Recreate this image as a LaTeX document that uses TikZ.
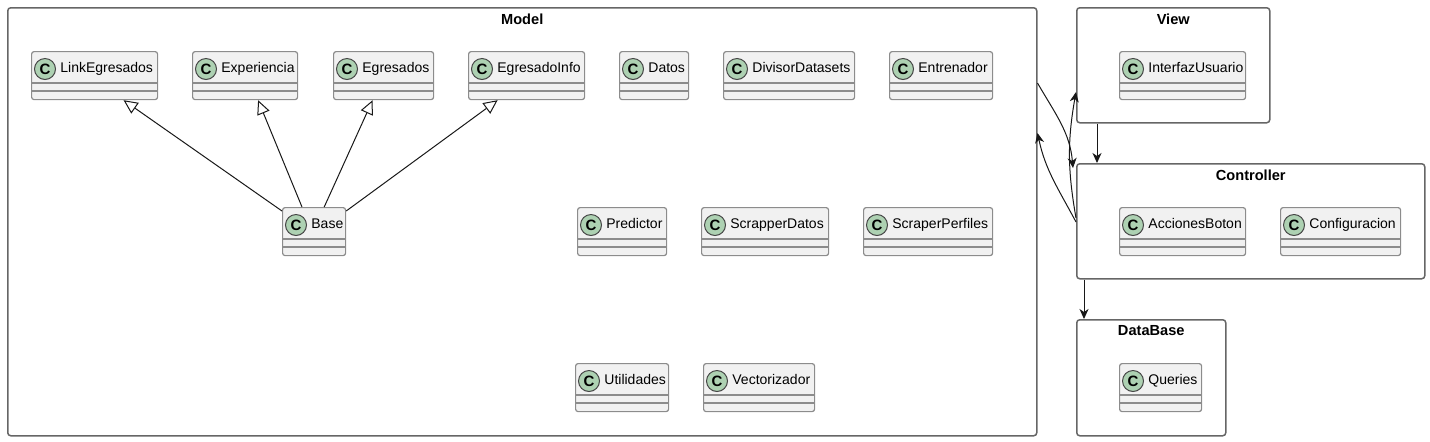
\documentclass[tikz,border=0pt]{standalone}
\usepackage{fontspec}
\setmainfont{Liberation Sans}
\usetikzlibrary{positioning,arrows.meta}
\definecolor{clsfill}{HTML}{F1F1F1}
\definecolor{clsedge}{HTML}{8C8C8C}
\definecolor{pkgedge}{HTML}{666666}
\definecolor{iconfill}{HTML}{ADD1B2}
\definecolor{ink}{HTML}{181818}

\begin{document}
\begin{tikzpicture}[
    x=0.5pt, y=-0.5pt,
    pkg/.style={draw=pkgedge, line width=0.75pt, rounded corners=1.5pt,
                anchor=north west, inner sep=0pt},
    pkgname/.style={font=\fontsize{7.3}{8}\selectfont\bfseries, inner sep=0pt},
    clsbox/.style={draw=clsedge, fill=clsfill, line width=0.6pt,
                   rounded corners=1.25pt, anchor=north west, inner sep=0pt,
                   minimum height=24pt},
    clsline/.style={clsedge, line width=0.6pt},
    cicon/.style={circle, draw=ink!80, fill=iconfill, line width=0.5pt,
                  minimum size=10.5pt, inner sep=0pt,
                  font=\fontsize{7.5}{8}\selectfont\bfseries},
    cname/.style={font=\fontsize{7}{8}\selectfont, inner sep=0pt,
                  text height=5.2pt, text depth=1.3pt},
    dep/.style={ink, line width=0.5pt,
                -{Stealth[length=5pt, width=4.5pt, inset=1.5pt]}},
    isa/.style={ink, line width=0.5pt,
                -{Triangle[open, length=7pt, width=6.5pt, fill=white]}}
]
\useasboundingbox (0,0) rectangle (1430,441);

% ---------- packages ----------
\node[pkg, minimum width=514.5pt, minimum height=214pt] (model) at (7,7) {};
\node[pkg, minimum width=96.5pt, minimum height=57.5pt] (view) at (1076,7) {};
\node[pkg, minimum width=174pt, minimum height=57.5pt] (ctrl) at (1076,163) {};
\node[pkg, minimum width=74.5pt, minimum height=58pt] (dbase) at (1076,319) {};

\foreach \p/\txt in {model/Model, view/View, ctrl/Controller, dbase/DataBase}
  \node[pkgname] (\p-name) at ([yshift=-6pt]\p.north) {\txt};

% ---------- classes ----------
\foreach \nm/\txt/\xl/\xr/\yt in {%
    link/LinkEgresados/31/157/51, expe/Experiencia/192/297/51,
    egre/Egresados/333/433/51, info/EgresadoInfo/468/584/51,
    datos/Datos/619/688/51, divisor/DivisorDatasets/723/854/51,
    entr/Entrenador/889/992/51, base/Base/282/345/207,
    pred/Predictor/577/666/207, sdatos/ScrapperDatos/701/828/207,
    sperf/ScraperPerfiles/863/992/207, util/Utilidades/575/668/363,
    vect/Vectorizador/703/814/363, iface/InterfazUsuario/1119/1245/51,
    acc/AccionesBoton/1119/1245/207, conf/Configuracion/1280/1400/207,
    queries/Queries/1119/1201/363}
{
  \node[clsbox, minimum width={(\xr-\xl)*0.5pt}] (\nm) at (\xl,\yt) {};
  \draw[clsline] ([yshift=-16pt]\nm.north west) -- ([yshift=-16pt]\nm.north east);
  \draw[clsline] ([yshift=-20pt]\nm.north west) -- ([yshift=-20pt]\nm.north east);
  \node[cicon] (\nm-c) at ([xshift=7pt, yshift=-9pt]\nm.north west) {C};
  \node[cname, right=2pt of \nm-c.east, anchor=west] (\nm-t) {\txt};
}

% ---------- inheritance ----------
\draw[isa] ([yshift=-2pt]base.north west) -- ([xshift=14.5pt]link.south);
\draw[isa] ([xshift=10pt]base.north west) -- ([xshift=6.5pt]expe.south);
\draw[isa] ([xshift=-11pt]base.north east) -- ([xshift=-5.5pt]egre.south);
\draw[isa] ([yshift=-2pt]base.north east) -- ([xshift=-14.5pt]info.south);

% ---------- package dependencies ----------
\draw[dep] ([yshift=-38pt]model.north east)
      to[out=-60, in=95] ([xshift=-1.5pt, yshift=-2.5pt]ctrl.north west);
\draw[dep] ([yshift=-29.5pt]ctrl.north west)
      to[out=118, in=-78] ([yshift=-63pt]model.north east);
\draw[dep] ([yshift=-27.5pt]ctrl.north west)
      to[out=100, in=-100] ([yshift=-42.5pt]view.north west);
\draw[dep] ([xshift=10.5pt]view.south west) -- ([xshift=10.5pt]ctrl.north west);
\draw[dep] ([xshift=4pt]ctrl.south west) -- ([xshift=4pt]dbase.north west);

\end{tikzpicture}
\end{document}
